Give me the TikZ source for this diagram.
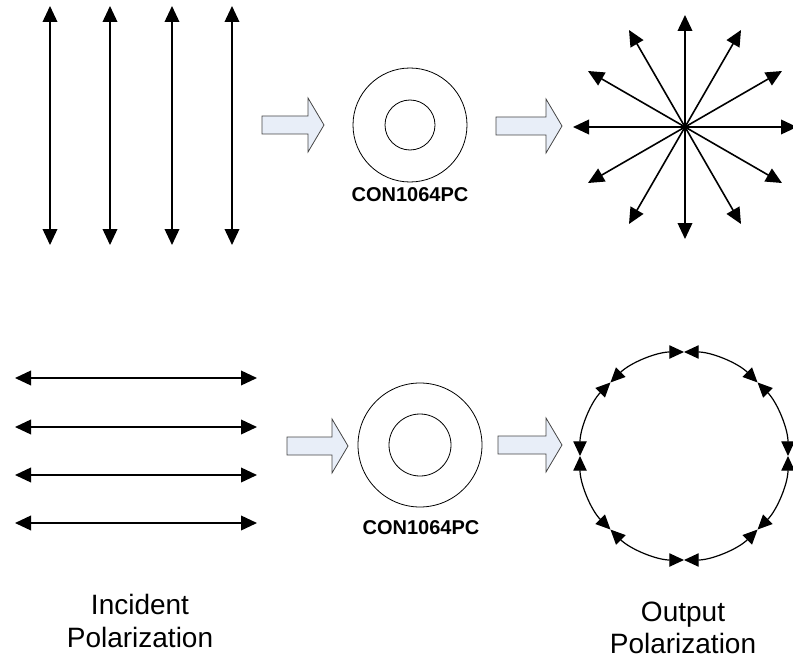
\documentclass[tikz,border=0pt]{standalone}
\usepackage{fontspec}
\setmainfont{Liberation Sans}
\usetikzlibrary{arrows.meta,calc}
\definecolor{blockfill}{RGB}{232,238,248}
\definecolor{blockline}{RGB}{70,70,70}

\begin{document}
\begin{tikzpicture}[x=0.75pt,y=-0.75pt]
	\tikzstyle{pol}=[line width=1.2pt,{Triangle[length=12pt,width=11pt]}-{Triangle[length=12pt,width=11pt]}]
	\tikzstyle{ringarc}=[line width=0.9pt,{Triangle[length=11pt,width=10pt]}-{Triangle[length=11pt,width=10pt]}]
	\tikzstyle{lens}=[circle,draw=black,line width=0.6pt,inner sep=0pt]
	\tikzstyle{blockarrow}=[draw=blockline,fill=blockfill,line width=0.6pt]
	\tikzstyle{partname}=[font=\bfseries\fontsize{15}{17}\selectfont]
	\tikzstyle{caption}=[align=center,font=\fontsize{21}{24.5}\selectfont]
	\useasboundingbox (0,0) rectangle (793,660);

	% incident, vertical
	\foreach \i/\x in {1/50,2/110,3/172,4/232}{
		\coordinate (vt\i) at (\x,6);
		\coordinate (vb\i) at (\x,245);
		\draw[pol] (vt\i) -- (vb\i);
	}
	% incident, horizontal
	\foreach \i/\y in {1/378,2/427,3/475,4/523}{
		\coordinate (hl\i) at (15,\y);
		\coordinate (hr\i) at (257,\y);
		\draw[pol] (hl\i) -- (hr\i);
	}

	% block arrows
	\foreach \x/\y/\l in {262/125/62,496/126/66,287/446/61,498/445/64}
		\draw[blockarrow] (\x,{\y-9}) -- ++({\l-16},0) -- ++(0,-18) -- ++(16,27)
			-- ++(-16,27) -- ++(0,-18) -- ++({16-\l},0) -- cycle;

	% converters
	\node[lens,minimum size=85.5pt](lensA) at (410,125){};
	\node[lens,minimum size=37.5pt](lensAin) at (lensA){};
	\node[partname](nameA) at (410,195){CON1064PC};
	\node[lens,minimum size=93pt](lensB) at (420,445){};
	\node[lens,minimum size=46.5pt](lensBin) at (lensB){};
	\node[partname](nameB) at (421,528){CON1064PC};

	% output, radial
	\coordinate (star) at (685,127);
	\foreach \a in {0,30,...,150}
		\draw[pol] ($(star)+(\a:112)$) -- ($(star)+(\a+180:112)$);
	% output, azimuthal
	\coordinate (ring) at (684,456);
	\foreach \a in {0,45,...,315}
		\draw[ringarc] ($(ring)+(\a:104)$) arc[start angle=\a,end angle=\a+45,radius=104];

	\node[caption](incident) at (140,621){Incident\\Polarization};
	\node[caption](output) at (683,628){Output\\Polarization};
\end{tikzpicture}
\end{document}
